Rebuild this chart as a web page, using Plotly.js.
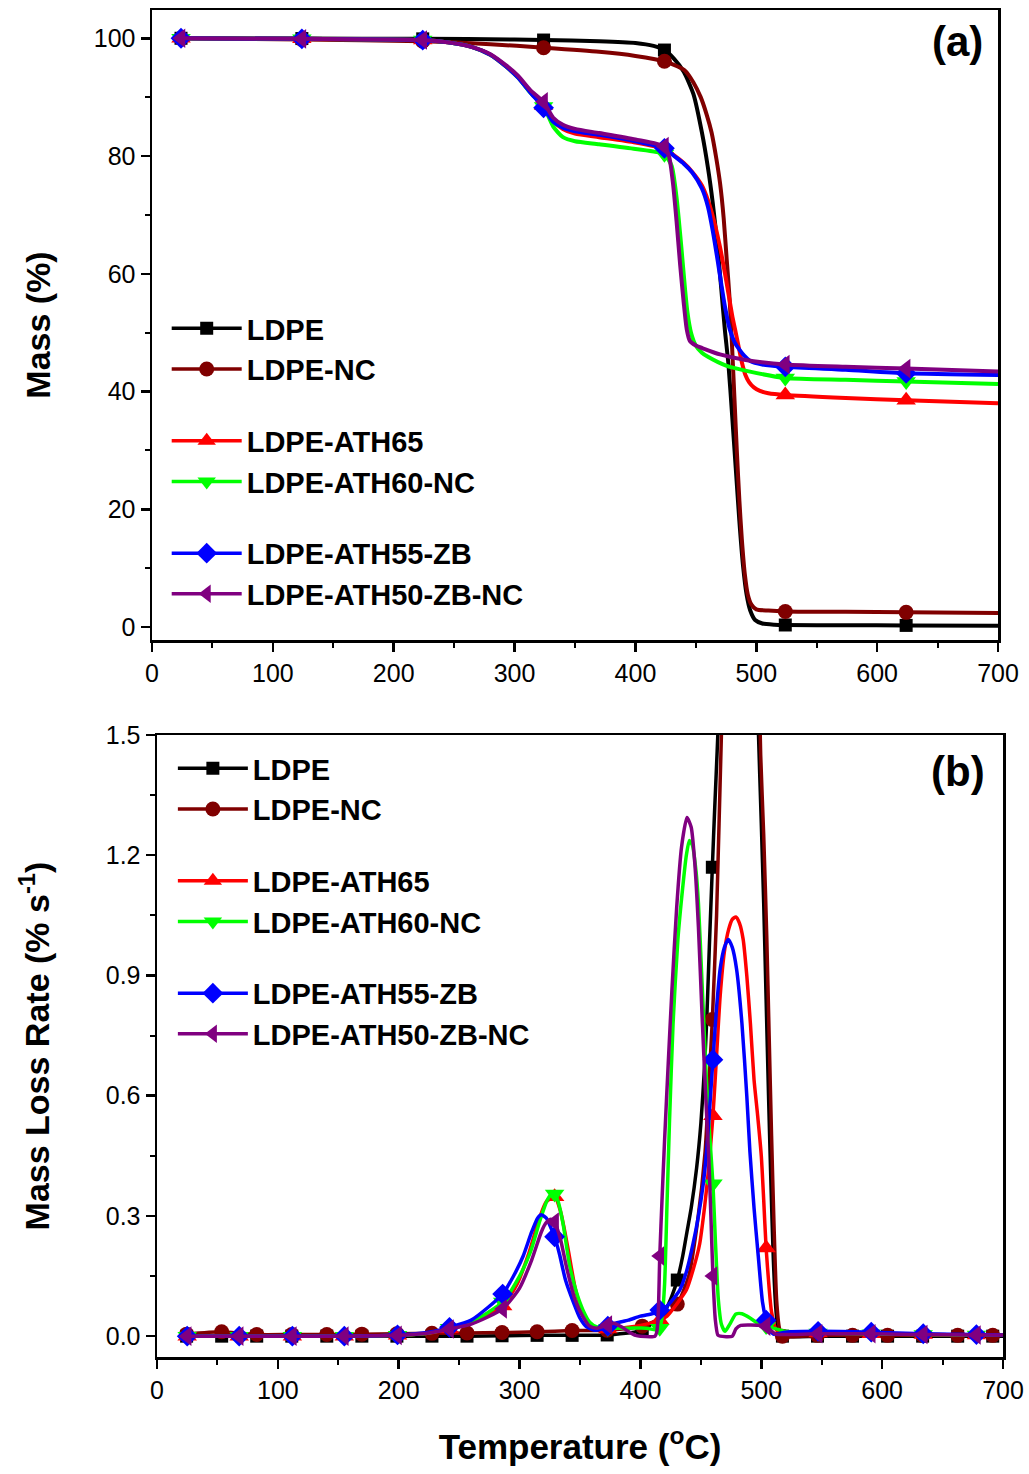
<!DOCTYPE html>
<html><head><meta charset="utf-8">
<script src="https://cdn.plot.ly/plotly-3.0.1.min.js"></script>
<style>html,body{margin:0;padding:0;background:#fff}</style>
</head><body><div id="chart" style="width:1029px;height:1474px"></div>
<script>
// ---------- series names, colours, symbols ----------
const seriesNames = ["LDPE", "LDPE-NC", "LDPE-ATH65", "LDPE-ATH60-NC", "LDPE-ATH55-ZB", "LDPE-ATH50-ZB-NC"];
const seriesColors = ["#000000", "#800000", "#FF0000", "#00FF00", "#0000FF", "#800080"];
const seriesSymbols = ["square", "circle", "triangle-up", "triangle-down", "diamond", "triangle-left"];

// ---------- panel (a): mass (%) vs temperature (°C) ----------
const markT_a = [24, 124, 224, 324, 424, 524, 624];

const Ta_LDPE = [24,124,224,300,324,370,400,415,424,432,440,448,455,460,464,468,471,474,477,480,483,486,489,492,495,499,505,515,524,574,624,700];
const Ma_LDPE = [100,99.95,99.9,99.8,99.7,99.5,99.2,98.7,98.0,96.5,94.3,90.5,84,78,72,64.5,57.5,50.5,44.5,36,27,18,10.5,5.5,2.8,1.2,0.6,0.4,0.35,0.3,0.28,0.22];

const Ta_LDPENC = [24,124,224,280,324,370,400,424,435,441,448,454,459,463,467,470,473,475.5,478,480,482,484,486,488,490.5,493,496,500,510,524,574,624,700];
const Ma_LDPENC = [100,99.8,99.5,99.0,98.4,97.7,97.0,96.1,95.2,94.5,92.5,90,87,84,79.5,75.4,69.5,62.5,55.5,47.5,38.5,29.5,21.5,15,9,5.5,3.8,3.0,2.8,2.65,2.6,2.5,2.4];

const Ta_ATH65 = [24,124,224,245,265,280,293,303,313,324,332,340,350,370,400,424,432,440,447,455,460,465,470,475,480,483,485.5,488,491,494,498,503,510,524,574,624,700];
const Ma_ATH65 = [100,99.9,99.7,99.3,98.5,97.2,95.2,93.3,91,88.6,86,84.6,83.8,83.2,82.3,81.2,80.1,78.8,77.3,75,72.5,69,64.5,59,53,50,47.5,45,42.8,41.6,40.7,40.1,39.7,39.4,38.9,38.5,38.0];

const Ta_ATH60NC = [24,124,224,245,265,280,293,303,313,324,332,340,350,370,400,424,430,434,438,441,443,446,450,455,460,475,490,524,574,624,700];
const Ma_ATH60NC = [100,99.9,99.7,99.3,98.5,97.2,95.2,93.3,90.8,88.4,85,83.2,82.5,82,81.2,80.3,78.3,73,64.5,57.5,53.5,50,47.8,46.6,45.9,44.4,43.6,42.3,42.0,41.7,41.3];

const Ta_ATH55ZB = [24,124,224,245,265,280,293,303,313,324,332,340,350,370,400,424,432,440,447,455,460,464,468,471,474,478,482,486.5,490,495,505,524,574,624,700];
const Ma_ATH55ZB = [100,99.9,99.7,99.3,98.5,97.2,95.2,93.3,90.8,88.2,85.8,84.8,84.2,83.6,82.5,81.3,80.0,78.7,77.2,74.5,71.4,67.3,62.3,58.3,54.5,50.6,48.4,47,46.1,45.2,44.6,44.2,43.7,43.1,42.8];

const Ta_ATH50ZBNC = [24,124,224,245,265,280,293,303,313,324,332,340,350,370,400,424,428,431,434,437,440,442.5,445,450,455,470,490,524,574,624,700];
const Ma_ATH50ZBNC = [100,99.9,99.7,99.3,98.5,97.3,95.4,93.6,91.2,89.2,86.5,85.3,84.6,83.9,82.8,81.6,79.8,75.5,69,61.5,55,50.5,48.6,47.8,47.4,46.3,45.4,44.6,44.2,43.9,43.4];

// ---------- panel (b): mass loss rate (% s^-1) vs temperature (°C) ----------
const markT_b_PE = [24.5,53.5,82.5,111.5,140.5,169.5,198.5,227.5,256.5,285.5,314.5,343.5,372.5,401.5,430.5,459.5,488.5,517.5,546.5,575.5,604.5,633.5,662.5,691.5];
const markT_b_ATH = [25,68,112,155,199,242,286,329,373,416,460,504,547,591,634,678];

const Tb_LDPE = [24.5,53.5,82.5,111.5,140.5,169.5,198.5,227.5,256.5,285.5,314.5,343.5,372.5,401.5,415,421.5,426,430.5,435,438.5,442,446.5,450,453,455,457,459.5,461.5,463.5,466,470,475,480,484,488.5,492,495,497.5,500,502,504,506,508,510,512,514,517.5,546.5,575.5,604.5,633.5,662.5,691.5,700];
const Rb_LDPE = [0,0,0,0,0,0,0,0,0,0.001,0.002,0.002,0.003,0.015,0.045,0.07,0.1,0.14,0.2,0.26,0.32,0.42,0.53,0.67,0.8,0.97,1.17,1.32,1.46,1.65,2.0,2.4,2.62,2.7,2.58,2.22,1.85,1.52,1.28,1.08,0.84,0.6,0.38,0.19,0.07,0.015,0,0,0,0,0,0,0,0];

const Tb_LDPENC = [24.5,53.5,82.5,111.5,140.5,169.5,198.5,227.5,256.5,285.5,314.5,343.5,372.5,401.5,420,430.5,440,447,453.5,456.5,459.5,463,467,472,478,483,488.5,493,497,499.5,502,504.5,506.5,508.5,510.5,512.7,515,517.5,546.5,575.5,604.5,633.5,662.5,691.5,700];
const Rb_LDPENC = [0.005,0.011,0.004,0.004,0.004,0.005,0.006,0.007,0.008,0.009,0.011,0.014,0.015,0.025,0.05,0.08,0.15,0.28,0.46,0.62,0.79,1.05,1.5,1.95,2.4,2.62,2.6,2.35,1.8,1.45,1.25,1.0,0.75,0.5,0.28,0.09,0.02,0.0,0.002,0.002,0.002,0.002,0.002,0.002,0.002];

const Tb_ATH65 = [25,68,112,155,199,225,242,260,286,298,308,316,322,329,334,340,346,352,358,365,373,390,405,416,422,430,438,444,449,453,456.5,460,463,466,469.5,473,476,479,482,485,488,491,494,497,500,502,504,506.5,508.5,512.5,520,547,591,634,678,700];
const Rb_ATH65 = [0,0,0,0,0.002,0.008,0.018,0.032,0.075,0.13,0.21,0.29,0.335,0.348,0.31,0.22,0.12,0.06,0.03,0.02,0.018,0.022,0.03,0.04,0.05,0.08,0.115,0.17,0.23,0.32,0.42,0.55,0.7,0.85,0.96,1.015,1.04,1.046,1.03,0.99,0.9,0.78,0.64,0.55,0.45,0.34,0.22,0.12,0.06,0.015,0.008,0.008,0.006,0.004,0.003,0.003];

const Tb_ATH60NC = [25,68,112,155,199,225,242,260,286,300,309,317,323,327,329,332,336,341.5,347,352.5,358,364,373,390,405,414,416,418,420,422,424,427,431,435,438,440.5,443,446,448,451,453.5,456,460,462,464.5,467,470,474,479,484,491,499,504,510,520,547,591,634,678,700];
const Rb_ATH60NC = [0,0,0,0,0.002,0.008,0.02,0.035,0.085,0.15,0.21,0.29,0.34,0.356,0.355,0.335,0.28,0.175,0.11,0.065,0.035,0.023,0.02,0.02,0.02,0.015,0.02,0.05,0.13,0.33,0.53,0.78,0.99,1.12,1.2,1.237,1.225,1.16,1.08,0.88,0.71,0.56,0.38,0.24,0.09,0.03,0.012,0.03,0.055,0.056,0.045,0.028,0.024,0.02,0.012,0.008,0.006,0.004,0.003,0.003];

const Tb_ATH55ZB = [25,68,112,155,199,225,242,260,286,295,303,310,315,318,322,326,329,333,338,344.5,350,355.5,362,367,373,380,390,400,411,416,422,432.5,438,443.5,448,452,455,458,460,463,466,469.5,472.7,476,479.5,484,488,490.6,494,497.5,501,504,507,510,520,547,591,634,678,700];
const Rb_ATH55ZB = [0,0,0,0,0.003,0.01,0.022,0.04,0.105,0.15,0.2,0.26,0.295,0.303,0.295,0.27,0.248,0.205,0.14,0.085,0.045,0.023,0.015,0.017,0.025,0.033,0.04,0.05,0.057,0.065,0.075,0.115,0.16,0.23,0.3,0.38,0.47,0.6,0.69,0.82,0.917,0.97,0.99,0.97,0.917,0.78,0.6,0.46,0.32,0.2,0.085,0.04,0.015,0.005,0.01,0.012,0.01,0.006,0.004,0.003];

const Tb_ATH50ZBNC = [25,68,112,155,199,225,242,260,286,300,310,318,322,326,329,334,339,346,352.5,358,364,373,378,385,391,396,400,412,413.5,414.8,416,418,420,423,426,430,434,438.5,442,445,448,451,454,456.5,458.3,460,462,464,466,476,479,483,500,504,508,512,520,547,591,634,678,700];
const Rb_ATH50ZBNC = [0,0,0,0,0.002,0.008,0.018,0.03,0.068,0.12,0.19,0.26,0.283,0.292,0.285,0.24,0.17,0.09,0.048,0.025,0.02,0.028,0.032,0.022,0.01,0.002,0,0,0.01,0.06,0.2,0.35,0.49,0.68,0.86,1.07,1.22,1.294,1.27,1.18,1.02,0.8,0.6,0.45,0.3,0.15,0.04,0.003,0,0,0.018,0.027,0.027,0.025,0.014,0.005,0.004,0.006,0.006,0.004,0.003,0.003];

// ---------- assemble ----------
const panelA = [
  [Ta_LDPE, Ma_LDPE], [Ta_LDPENC, Ma_LDPENC], [Ta_ATH65, Ma_ATH65],
  [Ta_ATH60NC, Ma_ATH60NC], [Ta_ATH55ZB, Ma_ATH55ZB], [Ta_ATH50ZBNC, Ma_ATH50ZBNC]
];
const panelB = [
  [Tb_LDPE, Rb_LDPE], [Tb_LDPENC, Rb_LDPENC], [Tb_ATH65, Rb_ATH65],
  [Tb_ATH60NC, Rb_ATH60NC], [Tb_ATH55ZB, Rb_ATH55ZB], [Tb_ATH50ZBNC, Rb_ATH50ZBNC]
];
const markB = [markT_b_PE, markT_b_PE, markT_b_ATH, markT_b_ATH, markT_b_ATH, markT_b_ATH];
const groupOf = [1, 1, 2, 2, 3, 3];
const markerSizes = [13, 15, 17, 17, 16, 17];

function pick(T, V, marks) {
  const x = [], y = [];
  T.forEach((t, i) => { if (marks.includes(t)) { x.push(t); y.push(V[i]); } });
  return { x, y };
}

const traces = [];
function addPanel(data, marksFor, xa, ya, legendName, gp, lw) {
  data.forEach((d, i) => {
    const col = seriesColors[i];
    traces.push({
      type: "scatter", mode: "lines", x: d[0], y: d[1], xaxis: xa, yaxis: ya,
      line: { color: col, width: lw, shape: "spline", smoothing: 0.6 },
      showlegend: false, hoverinfo: "skip"
    });
    const m = pick(d[0], d[1], marksFor(i));
    traces.push({
      type: "scatter", mode: "markers", x: m.x, y: m.y, xaxis: xa, yaxis: ya,
      marker: { color: col, symbol: seriesSymbols[i], size: markerSizes[i], line: { width: 0 } },
      showlegend: false, hoverinfo: "skip"
    });
    traces.push({
      type: "scatter", mode: "lines+markers", x: [null], y: [null], xaxis: xa, yaxis: ya,
      name: seriesNames[i], legend: legendName, legendgroup: gp + groupOf[i],
      line: { color: col, width: 3.5 },
      marker: { color: col, symbol: seriesSymbols[i], size: markerSizes[i], line: { width: 0 } }
    });
  });
}
addPanel(panelA, () => markT_a, "x", "y", "legend", "a", 4);
addPanel(panelB, (i) => markB[i], "x2", "y2", "legend2", "b", 3.5);

const W = 1029, H = 1474;
const FAM = "Liberation Sans, Arial, sans-serif";
const tickFont = { family: FAM, size: 25, color: "#000" };
const yTitleFont = { family: FAM, size: 34, color: "#000", weight: "bold" };
const xTitleFont = { family: FAM, size: 35, color: "#000", weight: "bold" };
const legFont = { family: FAM, size: 29, color: "#000", weight: "bold" };

const dxA = [152 / W, 998 / W], dyA = [1 - 640 / H, 1 - 10 / H];
const dxB = [157 / W, 1003 / W], dyB = [1 - 1357 / H, 1 - 735 / H];

function mainAxis(domain, range, dtick, minorDtick, extra) {
  return Object.assign({
    domain, range, dtick, tick0: 0, showgrid: false, zeroline: false,
    showline: true, linecolor: "#000", linewidth: 2.5, mirror: true,
    ticks: "outside", ticklen: 9, tickwidth: 2.5, tickcolor: "#000",
    minor: { dtick: minorDtick, ticks: "outside", ticklen: 5, tickwidth: 2, tickcolor: "#000", showgrid: false },
    tickfont: tickFont, fixedrange: true
  }, extra || {});
}
function mirrorAxis(overlay, anchor, side, range, dtick, minorDtick) {
  return {
    overlaying: overlay, anchor, side, range, dtick, tick0: 0,
    showgrid: false, zeroline: false, showline: false, showticklabels: false,
    ticks: "inside", ticklen: 9, tickwidth: 2.5, tickcolor: "#000",
    minor: { dtick: minorDtick, ticks: "inside", ticklen: 5, tickwidth: 2, tickcolor: "#000", showgrid: false },
    fixedrange: true
  };
}

const rangeXA = [0, 700], rangeYA = [-2.2, 104.8];
const rangeXB = [0, 700], rangeYB = [-0.052, 1.5];

const layout = {
  width: W, height: H, margin: { l: 0, r: 0, t: 0, b: 0 },
  paper_bgcolor: "#fff", plot_bgcolor: "#fff", showlegend: true,
  xaxis: mainAxis(dxA, rangeXA, 100, 50, { anchor: "y", ticklabelstandoff: 0 }),
  yaxis: mainAxis(dyA, rangeYA, 20, 10, { anchor: "x",
    title: { text: "Mass (%)", font: yTitleFont, standoff: 33 } }),
  xaxis3: mirrorAxis("x", "y", "top", rangeXA, 100, 50),
  yaxis3: mirrorAxis("y", "x", "right", rangeYA, 20, 10),
  xaxis2: mainAxis(dxB, rangeXB, 100, 50, { anchor: "y2",
    title: { text: "Temperature (<sup>o</sup>C)", font: xTitleFont, standoff: 32 } }),
  yaxis2: mainAxis(dyB, rangeYB, 0.3, 0.15, { anchor: "x2", tickformat: ".1f",
    title: { text: "Mass Loss Rate (% s<sup>-1</sup>)", font: yTitleFont, standoff: 46 } }),
  xaxis4: mirrorAxis("x2", "y2", "top", rangeXB, 100, 50),
  yaxis4: mirrorAxis("y2", "x2", "right", rangeYB, 0.3, 0.15),
  legend: { x: 0.162, y: 1 - 303 / H, xanchor: "left", yanchor: "top", bgcolor: "rgba(0,0,0,0)",
    font: legFont, tracegroupgap: 31, traceorder: "grouped", itemwidth: 70 },
  legend2: { x: 0.168, y: 1 - 743 / H, xanchor: "left", yanchor: "top", bgcolor: "rgba(0,0,0,0)",
    font: legFont, tracegroupgap: 31, traceorder: "grouped", itemwidth: 70 },
  annotations: [
    { text: "(a)", x: 957 / W, y: 1 - 42 / H, xref: "paper", yref: "paper", showarrow: false,
      xanchor: "center", yanchor: "middle",
      font: { family: FAM, size: 42, color: "#000", weight: "bold" } },
    { text: "(b)", x: 958 / W, y: 1 - 772 / H, xref: "paper", yref: "paper", showarrow: false,
      xanchor: "center", yanchor: "middle",
      font: { family: FAM, size: 42, color: "#000", weight: "bold" } }
  ]
};

Plotly.newPlot("chart", traces, layout, { displayModeBar: false, staticPlot: true });
</script></body></html>
